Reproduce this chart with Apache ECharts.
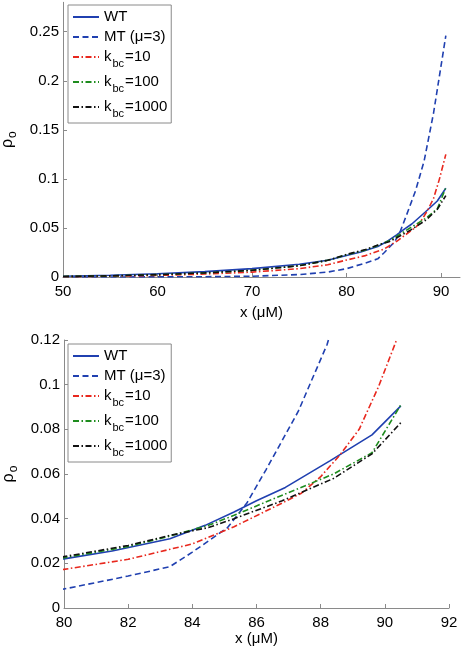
<!DOCTYPE html>
<html><head><meta charset="utf-8">
<script src="https://cdn.jsdelivr.net/npm/echarts@6/dist/echarts.min.js"></script>
<style>html,body{margin:0;padding:0;background:#fff}#c{width:462px;height:652px}</style>
</head><body><div id="c"></div>
<script>
// ---- data ----
const seriesNames = ['WT', 'MT (μ=3)', 'k_bc=10', 'k_bc=100', 'k_bc=1000'];
const xWT = [50, 55, 60, 65, 70, 75, 78, 80, 81.5, 83.3, 84.4, 85.3, 86, 86.9, 88.3, 89.6, 90.5];
const yWT = [0.0008, 0.0018, 0.0033, 0.0055, 0.0085, 0.013, 0.017, 0.022, 0.0255, 0.031, 0.037, 0.043, 0.048, 0.054, 0.066, 0.0775, 0.0905];
const xMT = [50, 60, 65, 70, 75, 78, 80, 82, 83.3, 84, 84.5, 85.1, 85.7, 86.3, 87.3, 88.2, 89.2, 90.5];
const yMT = [0, 0.0001, 0.0003, 0.0008, 0.0025, 0.005, 0.0085, 0.0143, 0.0185, 0.025, 0.030, 0.036, 0.047, 0.062, 0.088, 0.118, 0.167, 0.246];
const xK10 = [50, 55, 60, 65, 70, 75, 78, 80, 82, 84, 85.3, 86.8, 87.4, 88, 88.6, 89.2, 89.8, 90.5];
const yK10 = [0.0003, 0.0008, 0.0016, 0.003, 0.005, 0.0085, 0.0125, 0.0173, 0.0218, 0.0287, 0.0364, 0.047, 0.0514, 0.0588, 0.0685, 0.080, 0.099, 0.125];
const xK100 = [50, 55, 60, 65, 70, 75, 78, 80, 82, 83.3, 84.5, 85.3, 86.8, 88.4, 89.6, 90.5];
const yK100 = [0.0005, 0.0012, 0.0024, 0.0042, 0.0068, 0.0115, 0.017, 0.0225, 0.0275, 0.0322, 0.037, 0.0415, 0.0505, 0.060, 0.0695, 0.091];
const xK1000 = [50, 55, 60, 65, 70, 75, 78, 80, 82, 83.3, 84.5, 85.3, 86.8, 88.4, 89.6, 90.5];
const yK1000 = [0.0005, 0.0012, 0.0024, 0.0042, 0.0068, 0.0115, 0.017, 0.023, 0.028, 0.0325, 0.036, 0.040, 0.048, 0.058, 0.069, 0.083];
const topXTicks = [50, 60, 70, 80, 90];
const topYTicks = [0, 0.05, 0.1, 0.15, 0.2, 0.25];

// ---- styling ----
const FONT = 'Liberation Sans, Arial, sans-serif';
const AX = '#8a8a8a';
const styles = [
  {color: '#2040b0', type: 'solid'},
  {color: '#2040b0', type: [6, 3.5]},
  {color: '#e8281e', type: [6, 2.5, 1.5, 2.5]},
  {color: '#1e8c1e', type: [6, 2.5, 1.5, 2.5]},
  {color: '#111111', type: [6, 2.5, 1.5, 2.5]}
];
const xs = [xWT, xMT, xK10, xK100, xK1000];
const ys = [yWT, yMT, yK10, yK100, yK1000];

function pairs(x, y) { return x.map((v, i) => [v, y[i]]); }

const series = [];
[0, 1].forEach(g => {
  seriesNames.forEach((n, i) => {
    series.push({
      name: n, type: 'line', xAxisIndex: g, yAxisIndex: g,
      data: pairs(xs[i], ys[i]), symbol: 'none', smooth: false, animation: false,
      lineStyle: {color: styles[i].color, type: styles[i].type, width: 1.6},
      itemStyle: {color: styles[i].color}
    });
  });
});

const rich = {
  n: {fontSize: 15, fontFamily: FONT, color: '#000', verticalAlign: 'top', lineHeight: 16},
  s: {fontSize: 11, fontFamily: FONT, color: '#000', verticalAlign: 'top', lineHeight: 12, padding: [9, 1, 0, 1]}
};
function legFmt(name) {
  if (name.indexOf('k_bc') === 0) return '{n|k}{s|bc}{n|' + name.slice(4) + '}';
  return '{n|' + name + '}';
}
function legend(left, top) {
  return {
    left: left, top: top, orient: 'vertical', data: seriesNames,
    itemWidth: 26, itemHeight: 12, itemGap: 5,
    borderColor: AX, borderWidth: 1, padding: [4, 4, 4, 4],
    backgroundColor: '#fff',
    itemStyle: {opacity: 0},
    formatter: legFmt, textStyle: {rich: rich, fontSize: 15, fontFamily: FONT, color: '#000'},
    selectedMode: false
  };
}
const yName = '{r|ρ}{o|o}';
const yRich = {
  r: {fontSize: 16, fontFamily: FONT, color: '#000', verticalAlign: 'top', lineHeight: 16},
  o: {fontSize: 12, fontFamily: FONT, color: '#000', verticalAlign: 'top', lineHeight: 12, padding: [7, 0, 0, 1]}
};
const axCommon = {
  axisLine: {show: true, lineStyle: {color: AX, width: 1}},
  axisTick: {show: true, inside: true, length: 4, lineStyle: {color: AX}},
  splitLine: {show: false},
  axisLabel: {color: '#000', fontSize: 15, fontFamily: FONT}
};

const option = {
  animation: false,
  backgroundColor: '#fff',
  grid: [
    {left: 63, right: 2, top: 2.3, bottom: 375, containLabel: false, outerBoundsMode: 'none'},
    {left: 64, right: 13, top: 340, bottom: 44, containLabel: false, outerBoundsMode: 'none'}
  ],
  xAxis: [
    Object.assign({}, axCommon, {
      type: 'value', gridIndex: 0, min: 50, max: 92,
      axisTick: Object.assign({}, axCommon.axisTick, {customValues: topXTicks}),
      axisLabel: Object.assign({}, axCommon.axisLabel, {customValues: topXTicks, margin: 7}),
      name: 'x (μM)', nameLocation: 'middle', nameGap: 28,
      nameTextStyle: {fontSize: 15, fontFamily: FONT, color: '#000'}
    }),
    Object.assign({}, axCommon, {
      type: 'value', gridIndex: 1, min: 80, max: 92, interval: 2,
      axisLabel: Object.assign({}, axCommon.axisLabel, {margin: 7}),
      name: 'x (μM)', nameLocation: 'middle', nameGap: 19,
      nameTextStyle: {fontSize: 15, fontFamily: FONT, color: '#000'}
    })
  ],
  yAxis: [
    Object.assign({}, axCommon, {
      type: 'value', gridIndex: 0, min: 0, max: 0.28,
      axisTick: Object.assign({}, axCommon.axisTick, {customValues: topYTicks}),
      axisLabel: Object.assign({}, axCommon.axisLabel, {customValues: topYTicks, margin: 4}),
      name: yName, nameLocation: 'middle', nameGap: 44,
      nameTextStyle: {rich: yRich}
    }),
    Object.assign({}, axCommon, {
      type: 'value', gridIndex: 1, min: 0, max: 0.12, interval: 0.02,
      axisLabel: Object.assign({}, axCommon.axisLabel, {margin: 4}),
      name: yName, nameLocation: 'middle', nameGap: 44,
      nameTextStyle: {rich: yRich}
    })
  ],
  legend: [legend(68, 5), legend(68, 344)],
  series: series
};
const chart = echarts.init(document.getElementById('c'), null, {renderer: 'canvas'});
chart.setOption(option);
</script></body></html>
